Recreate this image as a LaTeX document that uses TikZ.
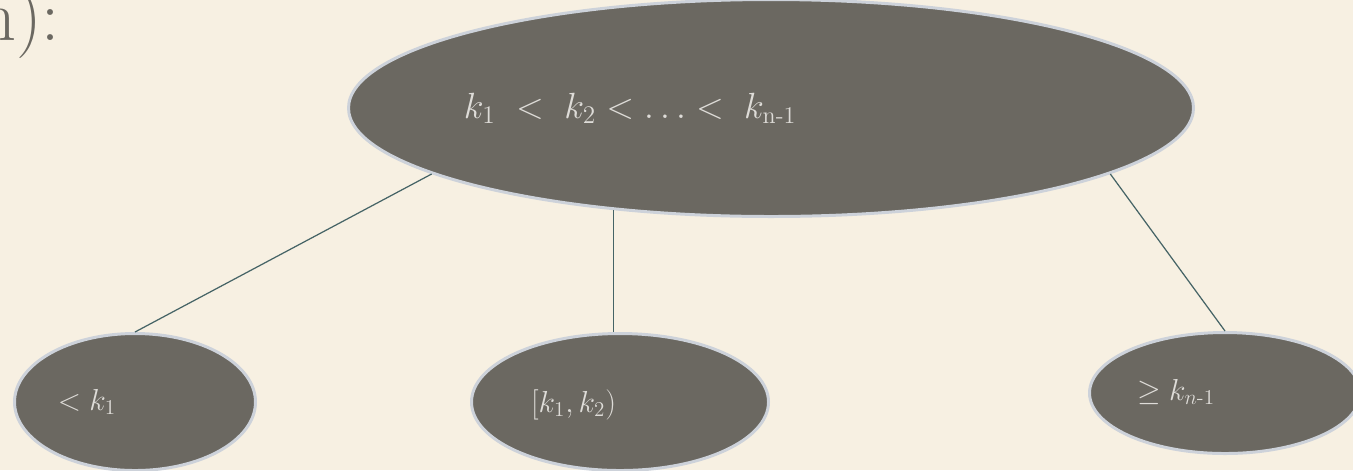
\documentclass[tikz,border=0pt]{standalone}
\usepackage{amsmath}
\usepackage{xcolor}
\usepackage{tikz}
\usetikzlibrary{shapes.geometric, positioning, calc}

\definecolor{paper}{RGB}{247,240,226}
\definecolor{slate}{RGB}{107,104,97}
\definecolor{rim}{RGB}{205,210,218}
\definecolor{wire}{RGB}{70,100,102}
\definecolor{keyfg}{RGB}{222,220,216}

\begin{document}
\begin{tikzpicture}[
    keynode/.style={ellipse, draw=rim, fill=slate, line width=1.7pt, inner sep=0pt},
    rootnode/.style={keynode, minimum width=16.9cm, minimum height=4.34cm},
    leafnode/.style={keynode, minimum height=2.74cm},
    keytext/.style={text=keyfg, anchor=base, inner sep=0pt},
    leaftext/.style={keytext, font=\fontsize{17}{20}\selectfont},
    link/.style={draw=wire, line width=0.7pt},
]

%% --- Page ---
\useasboundingbox (0,0) rectangle (27.06,-9.4);
\fill[paper] (0,0) rectangle (27.06,-9.4);

%% --- Heading remainder ---
\node[anchor=base east, text=slate, inner sep=0pt, font=\fontsize{41}{41}\selectfont]
    (head) at (1.2,-0.8) {n):};

%% --- Root node ---
\node[rootnode] (root) at (15.42,-2.16) {};
\node[keytext, font=\fontsize{19.5}{23}\selectfont] (rootkeys) at ($(root.center)+(-2.82,-0.2)$)
    {$k_1\ <\ k_2 < \ldots <\; k_{\text{n-1}}$};

%% --- Leaf nodes ---
\node[leafnode, minimum width=4.82cm] (lo)  at (2.7,-8.04)  {};
\node[leafnode, minimum width=5.94cm] (mid) at (12.4,-8.04) {};
\node[keynode, minimum width=5.42cm, minimum height=2.42cm] (hi) at (24.5,-7.86) {};

\node[leaftext] (lokeys)  at ($(lo.center)+(-0.96,-0.16)$)  {$< k_1$};
\node[leaftext] (midkeys) at ($(mid.center)+(-0.93,-0.2)$)  {$[k_1, k_2)$};
\node[leaftext] (hikeys)  at ($(hi.center)+(-0.98,-0.14)$)  {$\geq k_{n\text{-}1}$};

%% --- Links ---
\draw[link] (root.191) -- (lo.north);
\draw[link] (root.213) -- (mid.north -| root.213);
\draw[link] (root.-11) -- (hi.north);

\end{tikzpicture}
\end{document}
